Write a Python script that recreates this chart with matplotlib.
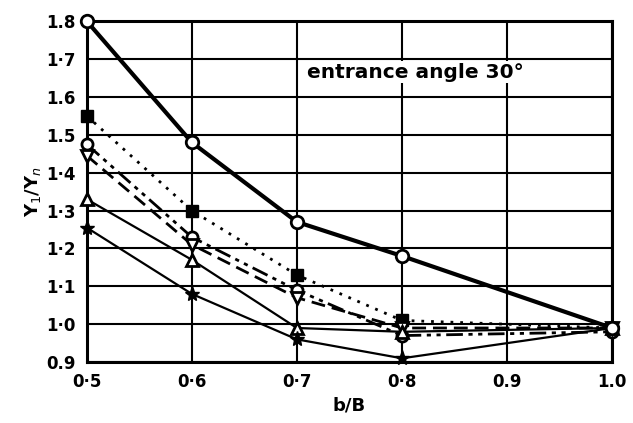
import matplotlib
matplotlib.use("Agg")
import matplotlib.pyplot as plt

x = [0.5, 0.6, 0.7, 0.8, 1.0]
s_thick = [1.80, 1.48, 1.27, 1.18, 0.99]
s_dotted = [1.55, 1.30, 1.13, 1.01, 0.99]
s_dashdot = [1.475, 1.23, 1.09, 0.97, 0.98]
s_dashed = [1.445, 1.21, 1.07, 0.99, 0.99]
s_tri = [1.33, 1.17, 0.99, 0.98, 0.99]
s_star = [1.255, 1.08, 0.96, 0.91, 0.99]

xticks = [0.5, 0.6, 0.7, 0.8, 0.9, 1.0]
xticklabels = ["0·5", "0·6", "0·7", "0·8", "0.9", "1.0"]
yticks = [0.9, 1.0, 1.1, 1.2, 1.3, 1.4, 1.5, 1.6, 1.7, 1.8]
yticklabels = ["0.9", "1·0", "1·1", "1·2", "1·3", "1·4", "1.5", "1.6", "1·7", "1.8"]

fig = plt.figure(figsize=(6.33, 4.23), dpi=100)
ax = fig.add_axes([0.137, 0.144, 0.830, 0.806])

kw = dict(color="black", clip_on=False)
ax.plot(x, s_thick, lw=3, marker="o", ms=9, mfc="white", mec="black", mew=2, zorder=6, **kw)
ax.plot(x, s_dotted, lw=2, ls=(0, (1, 2.5)), marker="s", ms=9, mfc="black", mec="black", zorder=5, **kw)
ax.plot(x, s_dashdot, lw=2, ls=(0, (6, 2, 1.5, 2, 1.5, 2)), marker="o", ms=8, mfc="white", mec="black", mew=2, zorder=5, **kw)
ax.plot(x, s_dashed, lw=2, ls=(0, (5, 2.5)), marker="v", ms=8, mfc="white", mec="black", mew=2, zorder=5, **kw)
ax.plot(x, s_tri, lw=1.6, marker="^", ms=9, mfc="white", mec="black", mew=2, zorder=5, **kw)
ax.plot(x, s_star, lw=1.6, marker="*", ms=11, mfc="black", mec="black", zorder=5, **kw)

ax.set_xlim(0.5, 1.0)
ax.set_ylim(0.9, 1.8)
ax.set_xticks(xticks)
ax.set_xticklabels(xticklabels, fontsize=12, fontweight="bold")
ax.set_yticks(yticks)
ax.set_yticklabels(yticklabels, fontsize=12, fontweight="bold")
ax.tick_params(length=0, pad=8)
ax.grid(True, color="black", lw=1.5)
for sp in ax.spines.values():
    sp.set_linewidth(2.2)

ax.set_xlabel("b/B", fontsize=13, fontweight="bold", labelpad=4)
ax.set_ylabel("Y$_1$/Y$_n$", fontsize=13, fontweight="bold", labelpad=2)
ax.text(0.71, 1.665, "entrance angle 30°", fontsize=14.5, fontweight="bold", va="center", ha="left",
        bbox=dict(facecolor="white", edgecolor="none", pad=1))

fig.savefig("out.png", dpi=100)
